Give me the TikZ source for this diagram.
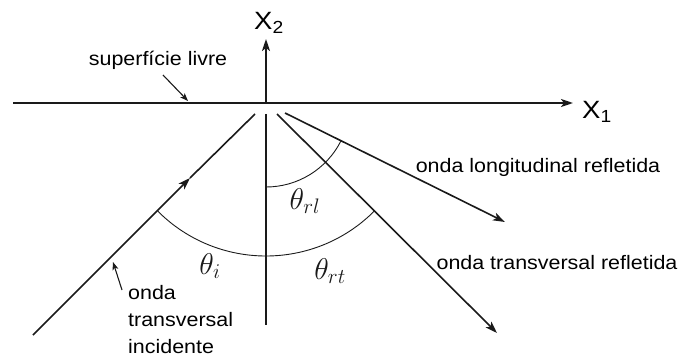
\RequirePackage{fix-cm}
\documentclass[tikz,border=0pt]{standalone}
\usepackage{fontspec}
\setmainfont{Liberation Sans}[FakeStretch=1.1]
\usetikzlibrary{arrows.meta, calc}
\definecolor{wInk}{HTML}{1A1A1A}
\tikzset{
  axis/.style={draw=wInk, line width=2pt, -{Stealth[length=12pt, width=8pt, inset=3pt]}},
  ray/.style={draw=wInk, line width=1.6pt},
  wave/.style={ray, -{Stealth[length=12pt, width=8pt, inset=3pt]}},
  anglearc/.style={draw=wInk, line width=0.9pt},
  pointer/.style={draw=wInk, line width=1.1pt, -{Stealth[length=8pt, width=6pt, inset=2pt]}},
  lbl/.style={font=\fontsize{19.5}{27}\selectfont, text=black, inner sep=0pt},
  anglbl/.style={font=\fontsize{30}{32}\selectfont, text=wInk, inner sep=0pt},
  axlbl/.style={font=\fontsize{25}{27}\selectfont, text=black, inner sep=0pt},
}
\begin{document}
\begin{tikzpicture}[x=1pt, y=1pt]
  \useasboundingbox (0,0) rectangle (683,362);
  % origin and axes
  \coordinate (O) at (266,259);
  \coordinate (x1s) at (13,259);
  \coordinate (x1e) at (573,259);
  \coordinate (x2e) at (266,323);
  \coordinate (vtop) at (266,248);
  \coordinate (vbot) at (266,37);
  \draw[axis] (x1s) -- (x1e);
  \draw[axis] (O) -- (x2e);
  \draw[ray] (vtop) -- (vbot);
  \node[axlbl] (lx1) at (597,250) {X\textsubscript{1}};
  \node[axlbl] (lx2) at (269,339) {X\textsubscript{2}};
  % incident wave
  \coordinate (inS) at (33,27);
  \coordinate (inM) at (190,184);
  \coordinate (inE) at (255,248);
  \draw[wave] (inS) -- (inM);
  \draw[ray] (inM) -- (inE);
  % reflected waves
  \coordinate (rlS) at (285,249);
  \coordinate (rlE) at (505,140);
  \coordinate (rtS) at (277,248);
  \coordinate (rtE) at (497,29);
  \draw[wave] (rlS) -- (rlE);
  \draw[wave] (rtS) -- (rtE);
  % angles
  \draw[anglearc] ($(O)+(-135:153)$) arc[start angle=-135, end angle=-45, radius=153];
  \draw[anglearc] ($(O)+(-90:84)$) arc[start angle=-90, end angle=-27, radius=84];
  \node[anglbl] (thrl) at (305,161) {$\theta_{rl}$};
  \node[anglbl] (thi) at (210,96) {$\theta_i$};
  \node[anglbl] (thrt) at (330,91) {$\theta_{rt}$};
  % labels
  \node[lbl] (surf) at (158,302) {superfície livre};
  \coordinate (surfP) at (188,261);
  \draw[pointer] (163,287) -- (surfP);
  \node[lbl] (longi) at (538,195) {onda longitudinal refletida};
  \node[lbl] (trans) at (557,99) {onda transversal refletida};
  \node[lbl, align=left, anchor=north west] (inc) at (128,77) {onda\\transversal\\incidente};
  \coordinate (incP) at (113,100);
  \draw[pointer] (122,72) -- (incP);
\end{tikzpicture}
\end{document}
